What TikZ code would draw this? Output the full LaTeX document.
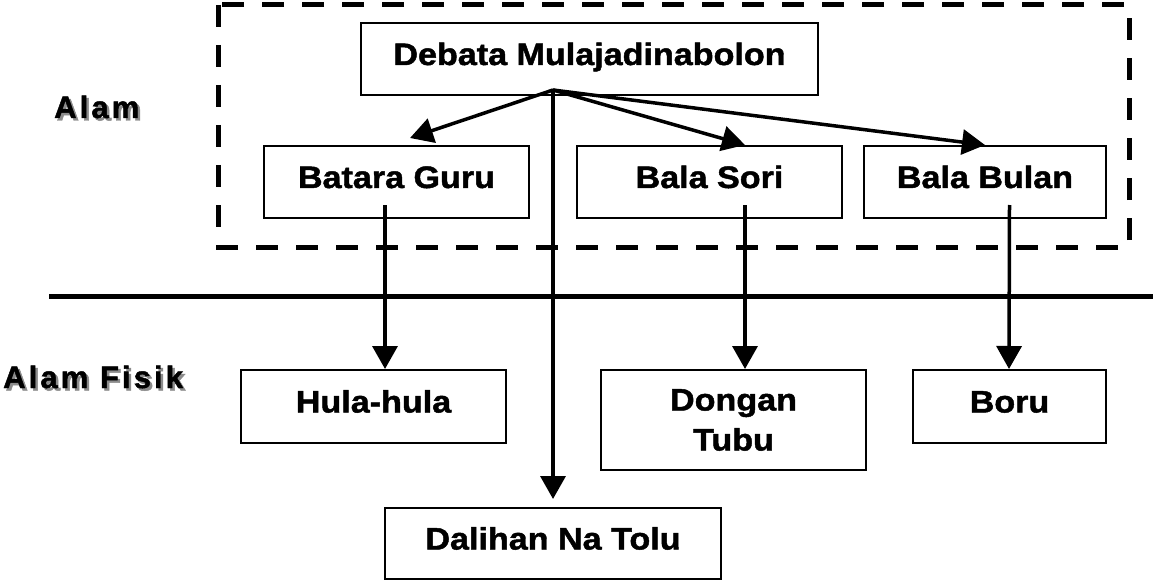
\documentclass[tikz,border=0pt]{standalone}
\usepackage{fontspec}
\usetikzlibrary{arrows.meta}
\newfontfamily\boxfont[FakeStretch=1.1,FakeBold=1.5]{Liberation Sans Bold}
\newfontfamily\labfont[LetterSpace=10,FakeBold=1.5]{Liberation Sans Bold}
\newcommand{\shadowtext}[1]{\makebox[0pt][l]{\hspace{2.5pt}\raisebox{-2.5pt}{\textcolor{black!45}{#1}}}#1}
\tikzset{
  box/.style={draw, line width=2pt, inner sep=0pt, font=\boxfont\fontsize{31}{40}\selectfont,
    text height=22pt, text depth=10pt, minimum height=72pt},
  box2/.style={draw, line width=2pt, inner sep=0pt, align=center, font=\boxfont\fontsize{31}{40}\selectfont},
  arr/.style={line width=3.5pt, -{Triangle[length=23pt,width=25pt]}},
  frame/.style={line width=5pt, dash pattern=on 22pt off 18pt},
  sep/.style={line width=5pt},
  lab/.style={font=\labfont\fontsize{31}{36}\selectfont, inner sep=0pt, anchor=base west}
}
\begin{document}
\begin{tikzpicture}[x=1pt,y=-1pt]
\useasboundingbox[fill=white] (0,0) rectangle (1153,580);
% frame of Alam
\draw[frame] (218,5) rectangle (1129,247);
% separator line
\coordinate (sl) at (49,296);
\coordinate (sr) at (1153,296);
\draw[sep] (sl) -- (sr);
% labels with shadow
\node[lab] (alam) at (54,118) {\shadowtext{Alam}};
\node[lab] (fisik) at (3,388) {\shadowtext{Alam Fisik}};
% boxes
\node[box, minimum width=457pt] (deb) at (589.5,59) {Debata Mulajadinabolon};
\node[box, minimum width=265pt] (bg) at (396.5,182) {Batara Guru};
\node[box, minimum width=265pt] (bs) at (709.5,182) {Bala Sori};
\node[box, minimum width=242pt] (bb) at (985,182) {Bala Bulan};
\node[box, minimum width=265pt, minimum height=73pt] (hula) at (373.5,406.5) {Hula-hula};
\node[box2, minimum width=265pt, minimum height=100pt] (dt) at (733.5,420) {Dongan\\Tubu};
\node[box, minimum width=193pt, minimum height=73pt] (boru) at (1009.5,406.5) {Boru};
\node[box, minimum width=336pt, minimum height=71pt] (dal) at (553,543.5) {Dalihan Na Tolu};
% connectors
\coordinate (o) at (553,90);
\draw[arr] (o) -- ([xshift=13.5pt,yshift=7pt]bg.north);
\draw[arr] (o) -- ([xshift=35.5pt]bs.north);
\draw[arr] (o) -- (bb.north);
\draw[arr] (o) -- ([yshift=8pt]dal.north);
\draw[arr] ([xshift=-11.5pt,yshift=14pt]bg.south) -- ([xshift=11.5pt]hula.north);
\draw[arr] ([xshift=35.5pt,yshift=14pt]bs.south) -- ([xshift=11.5pt]dt.north);
\draw[arr] ([xshift=24.5pt,yshift=14pt]bb.south) -- ([xshift=-0.5pt]boru.north);
\end{tikzpicture}
\end{document}
